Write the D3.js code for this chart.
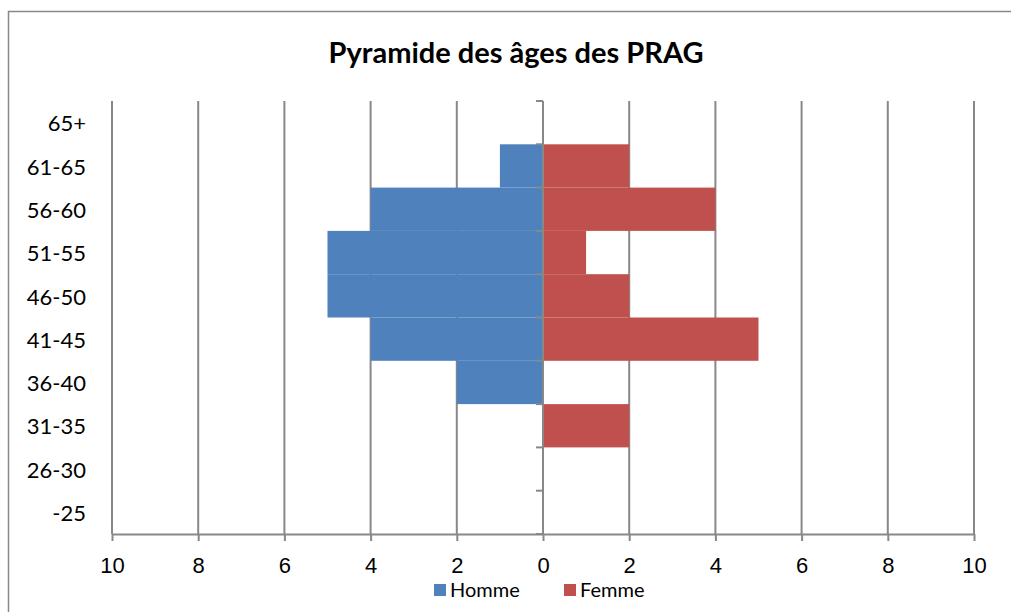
<!DOCTYPE html>
<html>
<head>
<meta charset="utf-8">
<script src="https://cdn.jsdelivr.net/npm/d3@7"></script>
<style>
  body { margin: 0; background: #fff; }
  svg { display: block; font-family: Lato, "Open Sans", sans-serif; }
</style>
</head>
<body>
<div id="chart"></div>
<script>
// tranches d'âge (du bas vers le haut)
const categories = ["-25", "26-30", "31-35", "36-40", "41-45", "46-50", "51-55", "56-60", "61-65", "65+"];
// effectifs par tranche
const homme = [0, 0, 0, 2, 4, 5, 5, 4, 1, 0];
const femme = [0, 0, 2, 0, 5, 2, 1, 4, 2, 0];
// graduations de l'axe horizontal
const x_ticks = [-10, -8, -6, -4, -2, 0, 2, 4, 6, 8, 10];
const series_names = ["Homme", "Femme"];
const title = "Pyramide des âges des PRAG";

const W = 1011, H = 612;
const plot_left = 112, plot_right = 974, plot_top = 101, plot_bottom = 534;
const blue = "#4F81BD", red = "#C0504D", grid = "#888";

const svg = d3.select("#chart").append("svg")
    .attr("width", W)
    .attr("height", H);

// cadre
svg.append("rect")
    .attr("x", 8.5).attr("y", 11.5)
    .attr("width", W + 10).attr("height", H + 10)
    .attr("fill", "none")
    .attr("stroke", "#888")
    .attr("stroke-width", 1.5);

// titre
svg.append("text")
    .attr("x", 516).attr("y", 63)
    .attr("text-anchor", "middle")
    .attr("font-weight", "bold")
    .attr("font-size", 29)
    .attr("fill", "#000")
    .text(title);

const x = d3.scaleLinear().domain([-10, 10]).range([plot_left, plot_right]);
const y = d3.scaleBand().domain(categories.slice().reverse()).range([plot_top, plot_bottom]).padding(0);

// grille verticale
svg.selectAll("line.grid")
    .data(x_ticks.filter(d => d !== 0))
    .enter()
    .append("line")
    .attr("class", "grid")
    .attr("x1", d => x(d)).attr("x2", d => x(d))
    .attr("y1", plot_top).attr("y2", plot_bottom)
    .attr("stroke", grid)
    .attr("stroke-width", 2);

// barres
const rows = categories.map((c, i) => ({ cat: c, h: homme[i], f: femme[i] }));
svg.selectAll("rect.homme")
    .data(rows.filter(d => d.h > 0))
    .enter()
    .append("rect")
    .attr("class", "homme")
    .attr("x", d => x(-d.h))
    .attr("y", d => y(d.cat))
    .attr("width", d => x(0) - x(-d.h))
    .attr("height", y.bandwidth())
    .attr("fill", blue);
svg.selectAll("rect.femme")
    .data(rows.filter(d => d.f > 0))
    .enter()
    .append("rect")
    .attr("class", "femme")
    .attr("x", x(0))
    .attr("y", d => y(d.cat))
    .attr("width", d => x(d.f) - x(0))
    .attr("height", y.bandwidth())
    .attr("fill", red);

// axe horizontal
const xAxis = svg.append("g")
    .attr("transform", `translate(0,${plot_bottom})`)
    .call(d3.axisBottom(x).tickValues(x_ticks).tickFormat(d => Math.abs(d)).tickSize(7).tickSizeOuter(0).tickPadding(16));
xAxis.select(".domain").attr("stroke", grid).attr("stroke-width", 2);
xAxis.selectAll(".tick line").attr("stroke", grid).attr("stroke-width", 2);
xAxis.selectAll("text").attr("font-size", 22).attr("fill", "#000");

// axe vertical (au zéro)
const boundaries = d3.range(categories.length + 1).map(i => plot_top + i * y.step());
svg.append("line")
    .attr("x1", x(0)).attr("x2", x(0))
    .attr("y1", plot_top).attr("y2", plot_bottom)
    .attr("stroke", grid).attr("stroke-width", 2);
svg.selectAll("line.ytick")
    .data(boundaries)
    .enter()
    .append("line")
    .attr("class", "ytick")
    .attr("x1", x(0) - 7).attr("x2", x(0))
    .attr("y1", d => d).attr("y2", d => d)
    .attr("stroke", grid).attr("stroke-width", 2);

// étiquettes des tranches
svg.selectAll("text.cat")
    .data(categories)
    .enter()
    .append("text")
    .attr("class", "cat")
    .attr("x", 86)
    .attr("y", d => y(d) + y.bandwidth() / 2 + 1)
    .attr("dy", "0.35em")
    .attr("text-anchor", "end")
    .attr("font-size", 22)
    .attr("fill", "#000")
    .text(d => d);

// légende
const legend = svg.append("g");
const lx = [434, 564];
series_names.forEach((n, i) => {
    legend.append("rect")
        .attr("x", lx[i]).attr("y", 584)
        .attr("width", 12).attr("height", 12)
        .attr("fill", i === 0 ? blue : red);
    legend.append("text")
        .attr("x", lx[i] + 16).attr("y", 597)
        .attr("font-size", 20)
        .attr("fill", "#000")
        .text(n);
});
</script>
</body>
</html>
